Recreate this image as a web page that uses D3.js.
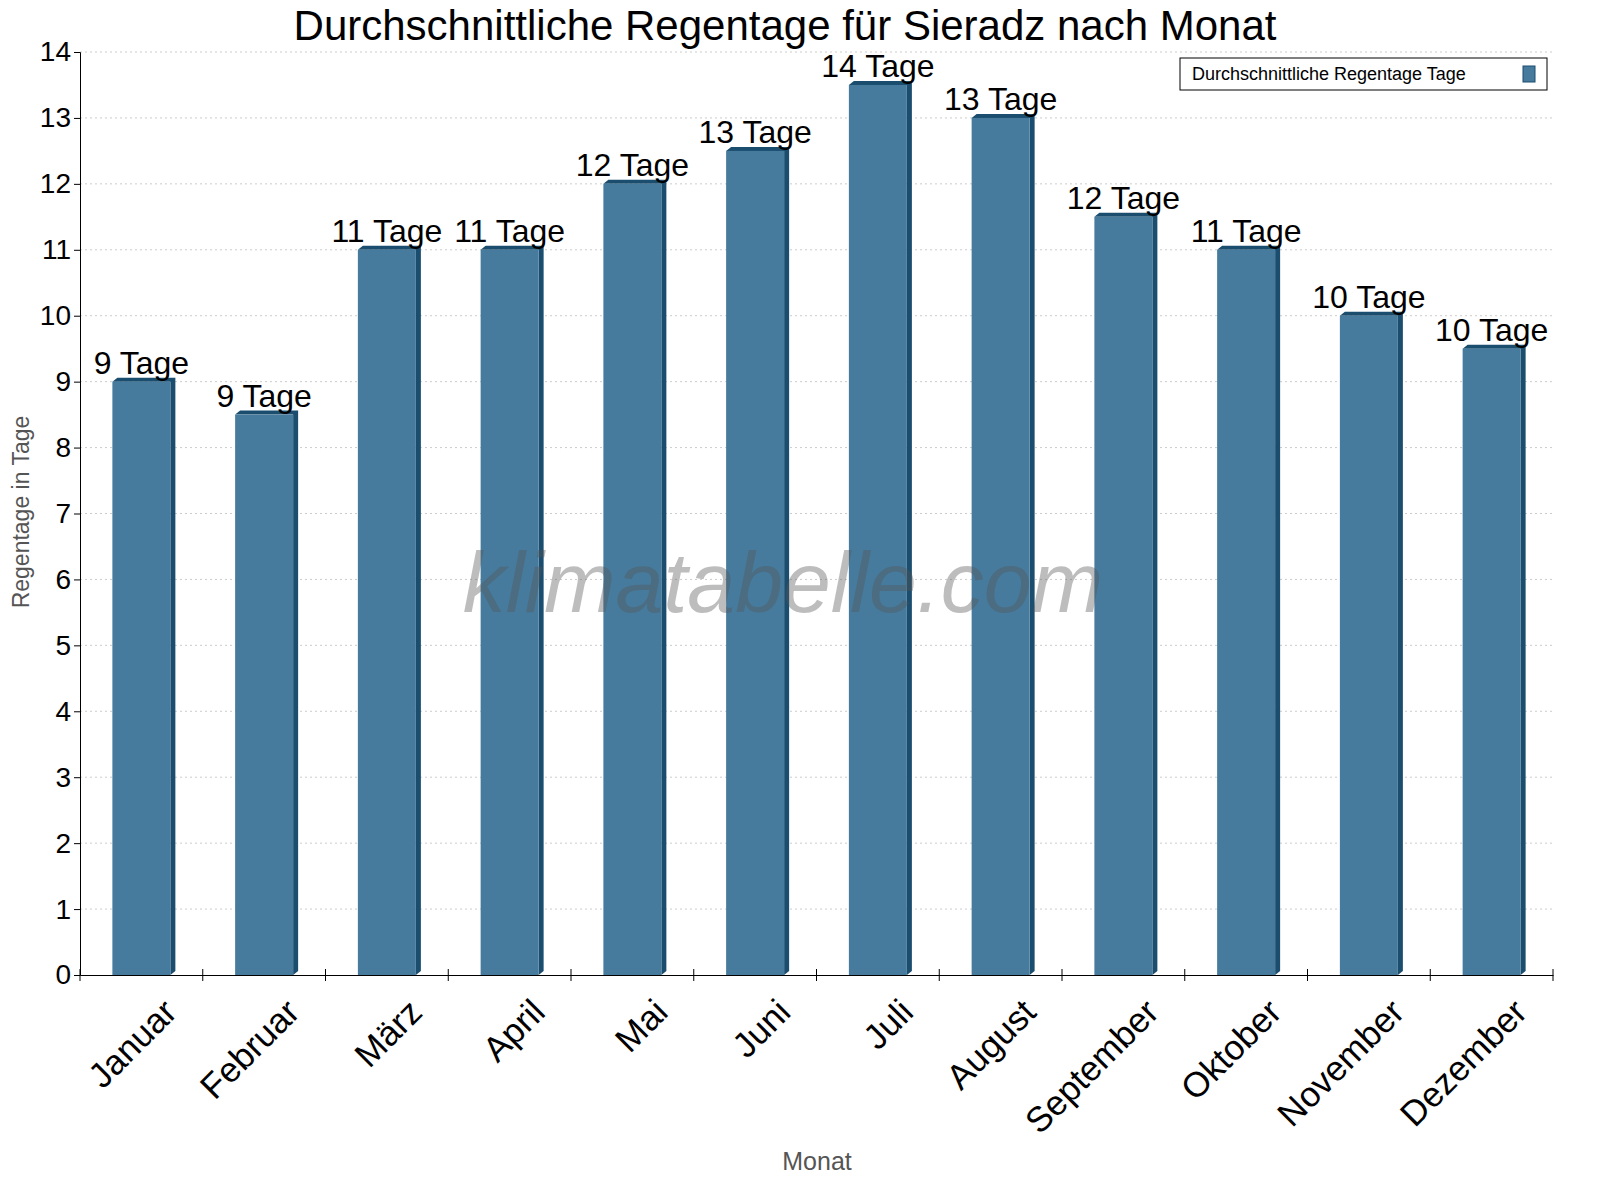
<!DOCTYPE html><html><head><meta charset="utf-8"><script src="https://cdn.jsdelivr.net/npm/d3@7"></script>
<style>body{margin:0;background:#fff}svg{font-family:"Liberation Sans",Arial,sans-serif}</style></head><body><svg id="c" width="1600" height="1200"></svg><script>
const months=["Januar","Februar","März","April","Mai","Juni","Juli","August","September","Oktober","November","Dezember"];
const rainDays=[9,8.5,11,11,12,12.5,13.5,13,11.5,11,10,9.5];
const labels=["9 Tage","9 Tage","11 Tage","11 Tage","12 Tage","13 Tage","14 Tage","13 Tage","12 Tage","11 Tage","10 Tage","10 Tage"];
const yTicks=d3.range(0,15);
const svg=d3.select("#c");
const L=80,R=1553,T=52,B=975;
const x=d3.scaleBand().domain(months).range([L,R]);
const y=d3.scaleLinear().domain([0,14]).range([B,T]);
const g=svg.append("g");
g.selectAll(".gl").data(yTicks.slice(1)).join("line").attr("x1",L).attr("x2",R).attr("y1",d=>y(d)).attr("y2",d=>y(d)).attr("stroke","#ccc").attr("stroke-dasharray","2,3");
const bw=58,dx=5,dy=4;
const bars=svg.append("g").selectAll("g").data(months).join("g");
bars.append("path").attr("d",(d,i)=>{const x0=x(d)+x.bandwidth()/2-bw/2,yt=y(rainDays[i]);return `M${x0},${yt}L${x0+dx},${yt-dy}L${x0+bw+dx},${yt-dy}L${x0+bw+dx},${B-dy}L${x0+bw},${B}L${x0+bw},${yt}Z`}).attr("fill","#1b4d6e");
bars.append("rect").attr("x",d=>x(d)+x.bandwidth()/2-bw/2).attr("y",(d,i)=>y(rainDays[i])).attr("width",bw).attr("height",(d,i)=>B-y(rainDays[i])).attr("fill","#467b9d");
bars.append("text").attr("x",d=>x(d)+x.bandwidth()/2).attr("y",(d,i)=>y(rainDays[i])-8).attr("text-anchor","middle").attr("font-size",32).text((d,i)=>labels[i]);
svg.append("text").attr("x",783).attr("y",612).attr("text-anchor","middle").attr("font-size",86).attr("font-style","italic").attr("fill","#555").attr("opacity",0.38).text("klimatabelle.com");
const ya=svg.append("g").attr("transform",`translate(${L},0)`).call(d3.axisLeft(y).tickValues(yTicks).tickSize(6).tickFormat(d3.format("d")));
ya.selectAll("text").attr("font-size",28).attr("fill","#000").attr("font-family","Liberation Sans,Arial,sans-serif");
svg.append("g").attr("transform",`translate(0,${B})`).call(d3.axisBottom(x).tickSize(0).tickFormat(""));
svg.append("g").selectAll("line").data(d3.range(13)).join("line").attr("x1",i=>L+i*x.step()).attr("x2",i=>L+i*x.step()).attr("y1",B-6).attr("y2",B+6).attr("stroke","#000");
svg.append("g").selectAll("text").data(months).join("text").attr("transform",d=>`translate(${x(d)+x.bandwidth()/2+20},${B+22}) rotate(-45)`).attr("text-anchor","end").attr("dy","0.7em").attr("font-size",35).text(d=>d);
svg.selectAll(".domain").attr("stroke","#000");
svg.append("text").attr("x",785).attr("y",40).attr("text-anchor","middle").attr("font-size",42).text("Durchschnittliche Regentage für Sieradz nach Monat");
svg.append("text").attr("x",817).attr("y",1170).attr("text-anchor","middle").attr("font-size",25).attr("fill","#555").text("Monat");
svg.append("text").attr("transform","translate(29,512) rotate(-90)").attr("text-anchor","middle").attr("font-size",23).attr("fill","#555").text("Regentage in Tage");
svg.append("rect").attr("x",1180).attr("y",58).attr("width",367).attr("height",32).attr("fill","#fff").attr("stroke","#000");
svg.append("text").attr("x",1192).attr("y",80).attr("font-size",18).text("Durchschnittliche Regentage Tage");
svg.append("rect").attr("x",1523).attr("y",66).attr("width",12).attr("height",16).attr("fill","#467b9d").attr("stroke","#1b4d6e");
</script></body></html>
